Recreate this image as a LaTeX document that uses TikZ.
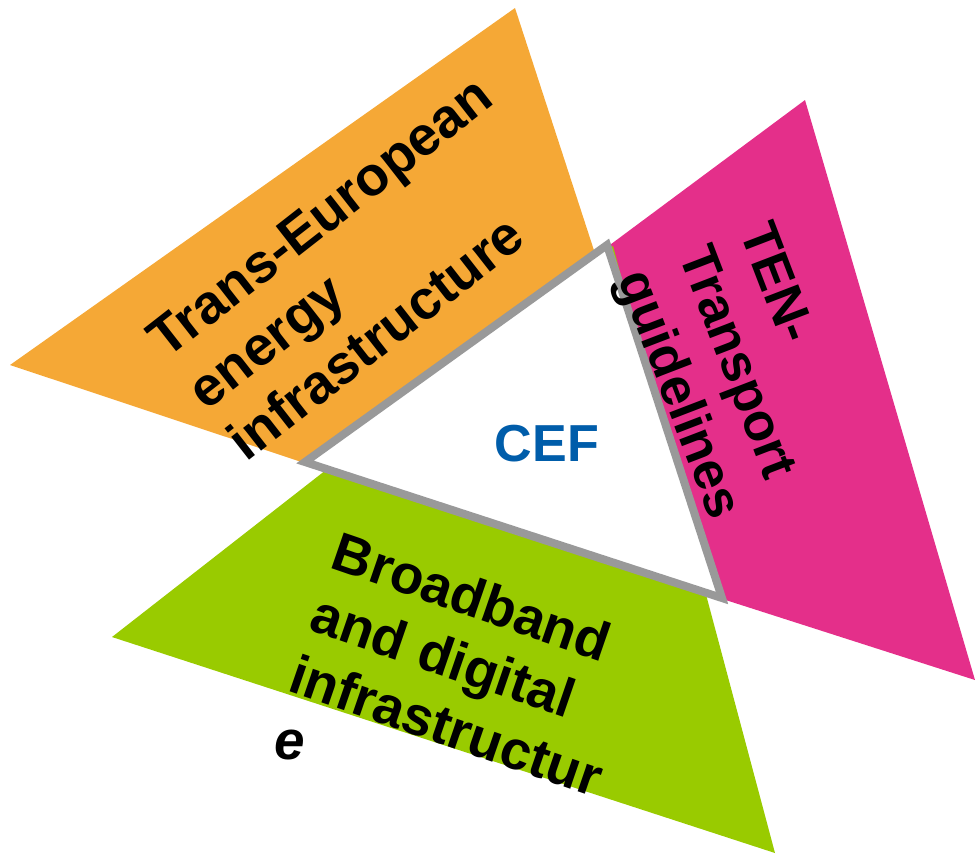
\documentclass[tikz,border=0pt]{standalone}
\usepackage{fontspec}
\setmainfont{Liberation Sans}
\definecolor{energycol}{RGB}{245,168,54}
\definecolor{transcol}{RGB}{228,47,138}
\definecolor{digitcol}{RGB}{153,203,0}
\definecolor{cefgray}{RGB}{153,153,153}
\definecolor{cefblue}{RGB}{0,93,170}

\begin{document}
\begin{tikzpicture}[x = 0.01cm, y = -0.01cm, line join = miter, every node/.style = {inner sep = 0pt, align = left, font = \bfseries\fontsize{15.6}{18.5}\selectfont}]
    \useasboundingbox (0, 0) rectangle (975, 853);
    % corners of the CEF triangle
    \coordinate (c1) at (305, 462);
    \coordinate (c2) at (607, 245);
    \coordinate (c3) at (722, 598);
    \fill[energycol] (515, 8) -- (10, 365) -- (707, 597) -- cycle;
    \fill[transcol] (805, 100) -- (975, 680) -- (311, 467) -- cycle;
    \fill[digitcol] (112, 637) -- (775, 853) -- (613, 246) -- cycle;
    \filldraw[fill = white, draw = cefgray, line width = 0.08cm] (c1) -- (c2) -- (c3) -- cycle;
    \node (energy) at (360, 268) [rotate = 38] {Trans-European\\energy\\infrastructure};
    \node (transport) at (737, 372) [rotate = -69, font = \bfseries\fontsize{15}{18.5}\selectfont] {TEN-\\Transport\\guidelines};
    \node (broadband) at (468, 664) [rotate = -19] {Broadband\\and digital\\infrastructur};
    \node (e) at (290, 745) {\itshape e};
    \node (cef) at (547, 444) [text = cefblue, font = \bfseries\fontsize{14.8}{17}\selectfont] {CEF};
\end{tikzpicture}
\end{document}
